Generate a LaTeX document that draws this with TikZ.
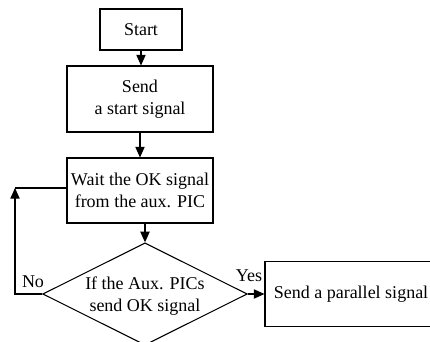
\documentclass[tikz,border=0pt]{standalone}
\usepackage{fontspec}
\setmainfont{Liberation Serif}
\usetikzlibrary{shapes.geometric,arrows.meta}

\begin{document}
\begin{tikzpicture}[x=0.75pt, y=-0.75pt, line width=0.8pt,
    font=\fontsize{13.5}{16.5}\selectfont,
    box/.style = {draw, rectangle, align=center, inner sep=1pt},
    decision/.style = {draw, diamond, align=center, inner sep=0pt, aspect=2},
    >={Triangle[length=8pt, width=7pt]}]
    \useasboundingbox (0,0) rectangle (430,342);

    % Vozlisca
    \node[box, minimum width=61.5pt, minimum height=30.75pt] (start) at (141,29.5) {Start};
    \node[box, minimum width=109.5pt, minimum height=49.5pt] (send) at (140,99) {Send\\a start signal};
    \node[box, minimum width=109.5pt, minimum height=48.75pt] (wait) at (140,190.5) {Wait the OK signal\\from the aux. PIC};
    \node[decision, minimum width=145.5pt, minimum height=75pt] (check) at (145,294) {\\[-4pt]If the Aux. PICs\\send OK signal};
    \node[box, minimum width=129pt, minimum height=48.75pt] (parallel) at (351,294) {Send a parallel signal};
    \coordinate (back) at (15,188);

    % Povezave
    \draw[->] (start.south) -- (start.south |- send.north);
    \draw[->] (send) -- (wait);
    \draw[->] (check.north |- wait.south) -- (check.north);
    \draw[->] (check.east) -- (parallel.west |- check.east);
    \draw[->] (check.west) -| (back);
    \draw (back) -- (wait.west |- back);

    % Oznake
    \node (no) at (33,282) {No};
    \node (yes) at (249,276) {Yes};

\end{tikzpicture}
\end{document}
